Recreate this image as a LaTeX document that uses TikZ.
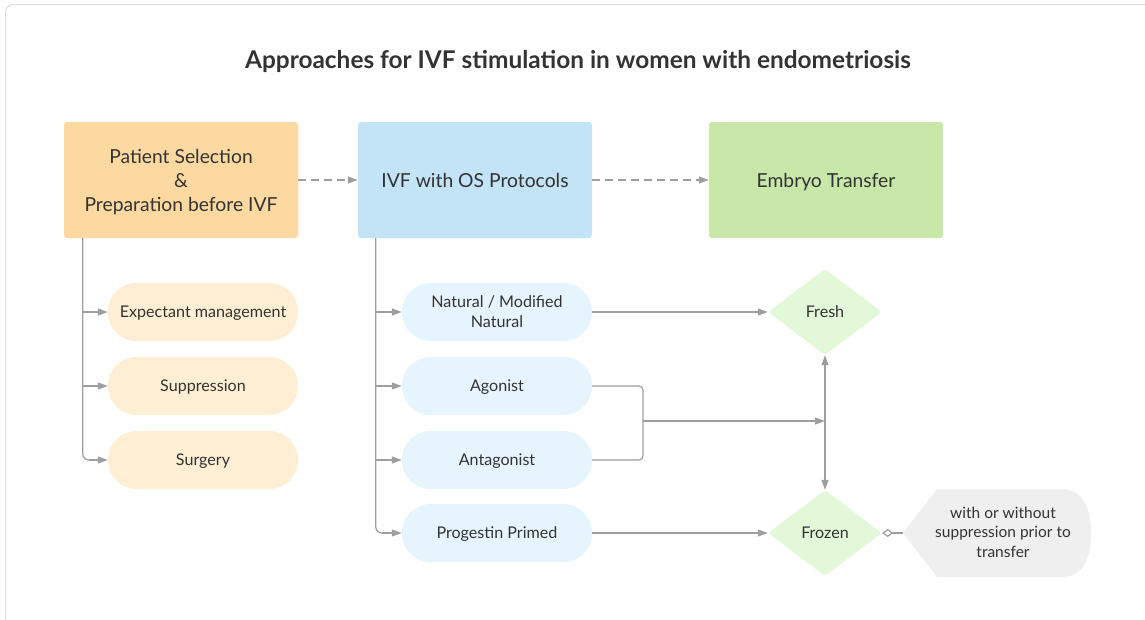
\documentclass[tikz,border=0pt]{standalone}
\usepackage{fontspec}
\setmainfont{Lato}
\usetikzlibrary{shapes.geometric,arrows.meta,calc}
\definecolor{txt}{HTML}{333333}
\definecolor{ln}{HTML}{9E9E9E}
\definecolor{obox}{HTML}{FDD9A2}
\definecolor{opill}{HTML}{FEEFD4}
\definecolor{bbox}{HTML}{C3E3F6}
\definecolor{bpill}{HTML}{E6F4FD}
\definecolor{gbox}{HTML}{C8E8A9}
\definecolor{gdia}{HTML}{E3F8D9}
\definecolor{notec}{HTML}{EFEFEF}
\definecolor{frame}{HTML}{DCDCDC}
\tikzset{
  bigbox/.style={rectangle, rounded corners=3pt, minimum width=234pt, minimum height=116pt, inner sep=0pt, align=center, text=txt, text depth=0pt, font=\fontsize{19.3}{24}\selectfont},
  pill/.style={rectangle, rounded corners=28.5pt, minimum width=190pt, minimum height=58pt, inner sep=0pt, align=center, text=txt, text depth=0pt, font=\fontsize{16.1}{20}\selectfont},
  dia/.style={diamond, fill=gdia, minimum width=114pt, minimum height=86pt, aspect=1.33, inner sep=0pt, rounded corners=3pt, text=txt, text depth=0pt, font=\fontsize{16.1}{20}\selectfont},
  conn/.style={draw=ln, line width=1.2pt, -{Triangle[length=10pt,width=7pt]}},
  plain/.style={draw=ln, line width=1.2pt},
  dconn/.style={conn, dash pattern=on 8pt off 5pt}
}
\begin{document}
\begin{tikzpicture}[x=1pt,y=-1pt]
\useasboundingbox (0,0) rectangle (1145,619);
\draw[frame, line width=1pt, rounded corners=8pt] (5.5,4.5) rectangle (1160,640);
\node[font=\bfseries\fontsize{24.4}{28}\selectfont, text=txt] (title) at (578,61) {Approaches for IVF stimulation in women with endometriosis};

\node[bigbox, fill=obox] (prep) at (181,180) {Patient Selection\\\&\\Preparation before IVF};
\node[bigbox, fill=bbox] (ivf) at (475,180) {IVF with OS Protocols};
\node[bigbox, fill=gbox] (et) at (826,180) {Embryo Transfer};

\draw[dconn] (prep.east) -- (ivf.west);
\draw[dconn] (ivf.east) -- (et.west);

\node[pill, fill=opill] (exp) at (203,312) {Expectant management};
\node[pill, fill=opill] (sup) at (203,386) {Suppression};
\node[pill, fill=opill] (sur) at (203,460) {Surgery};

\node[pill, fill=bpill] (nat) at (497,312) {Natural / Modified\\Natural};
\node[pill, fill=bpill] (ago) at (497,386) {Agonist};
\node[pill, fill=bpill] (ant) at (497,460) {Antagonist};
\node[pill, fill=bpill] (pro) at (497,533) {Progestin Primed};

\node[dia] (fresh) at (825,312) {Fresh};
\node[dia] (frozen) at (825,533) {Frozen};

% left trunk
\coordinate (lt) at ($(prep.south west)+(19,0)$);
\draw[plain, rounded corners=6pt] (lt) |- ($(sur.west)+(-8,0)$);
\draw[conn] (lt |- exp.west) -- (exp.west);
\draw[conn] (lt |- sup.west) -- (sup.west);
\draw[conn] ($(lt |- sur.west)+(6,0)$) -- (sur.west);

% blue trunk
\coordinate (bt) at ($(ivf.south west)+(18,0)$);
\draw[plain, rounded corners=6pt] (bt) |- ($(pro.west)+(-8,0)$);
\draw[conn] (bt |- nat.west) -- (nat.west);
\draw[conn] (bt |- ago.west) -- (ago.west);
\draw[conn] (bt |- ant.west) -- (ant.west);
\draw[conn] ($(bt |- pro.west)+(6,0)$) -- (pro.west);

% to diamonds
\draw[conn] (nat.east) -- (fresh.west);
\draw[conn] (pro.east) -- (frozen.west);
\coordinate (mg) at (643,421);
\draw[plain, rounded corners=4pt] (ago.east) -| (mg) |- (ant.east);
\draw[conn] (mg) -- (fresh.south |- mg);
\draw[draw=ln, line width=1.2pt, {Triangle[length=10pt,width=7pt]}-{Triangle[length=10pt,width=7pt]}] (fresh.south) -- (frozen.north);

% note
\coordinate (noteL) at (903,533);
\fill[notec] (noteL) -- (937,489) -- (1062,489) .. controls (1084,489) and (1091,510) .. (1091,533) .. controls (1091,556) and (1084,577) .. (1062,577) -- (937,577) -- cycle;
\node[align=center, text=txt, font=\fontsize{15.5}{19.5}\selectfont] (note) at (1003,532) {with or without\\suppression prior to\\transfer};
\draw[draw=ln, line width=1.2pt, {Diamond[open,length=11pt,width=8pt]}-] (frozen.east) -- (noteL);
\end{tikzpicture}
\end{document}
